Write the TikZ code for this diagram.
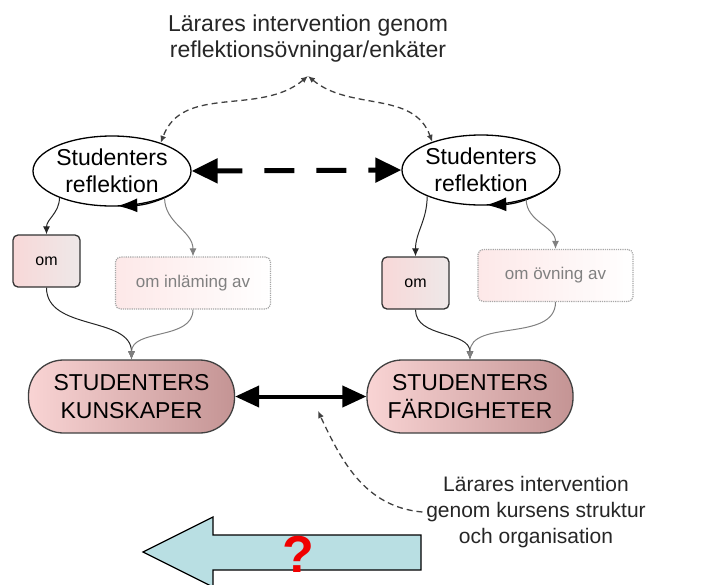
\documentclass[tikz,border=0pt]{standalone}
\usepackage{fontspec}
\setmainfont{Liberation Sans}
\usetikzlibrary{shapes.geometric,arrows.meta}

\definecolor{pinklight}{HTML}{F9D4D4}
\definecolor{pinkdark}{HTML}{C49494}
\definecolor{omlight}{HTML}{F8D8D8}
\definecolor{omdark}{HTML}{EEE8E8}
\definecolor{palepink}{HTML}{FDE8E8}
\definecolor{arrowblue}{HTML}{B9DFE3}
\definecolor{qred}{HTML}{F00000}

\begin{document}
\begin{tikzpicture}
  [x=1pt, y=-1pt,
   >={Latex[length=8pt,width=7pt]},
   line width=1pt,
   refl/.style={ellipse, draw, line width=1.3pt, inner sep=0pt, minimum width=158pt,
                minimum height=70pt, align=center,
                font=\fontsize{23}{27}\selectfont},
   ombox/.style={rectangle, rounded corners=5pt, draw=black!80, line width=1.3pt,
                 left color=omlight, right color=omdark,
                 minimum width=67pt, minimum height=52pt,
                 font=\fontsize{16}{19}\selectfont},
   faintbox/.style={rectangle, rounded corners=5pt, draw=gray!70, densely dotted,
                    line width=1.2pt, left color=palepink, right color=white, text=gray,
                    minimum width=155pt, minimum height=52pt,
                    font=\fontsize{17}{20}\selectfont},
   pill/.style={rectangle, rounded corners=35pt, draw=black!75, line width=1.3pt,
                left color=pinklight, right color=pinkdark,
                minimum width=206pt, minimum height=73pt, align=center,
                font=\fontsize{23}{28}\selectfont},
   note/.style={align=center, text=black!85, font=\fontsize{23}{26}\selectfont},
   dark/.style={->, black!85},
   pale/.style={->, gray},
   hint/.style={{Latex[length=7pt,width=6pt]}-{Latex[length=7pt,width=6pt]},
                line width=1.3pt, dash pattern=on 6pt off 4pt, black!75},
   intervene/.style={-{Latex[length=7pt,width=6pt]}, line width=1.3pt,
                     dash pattern=on 6pt off 4pt, black!75},
   loopback/.style={-{Latex[length=20pt,width=14pt]}, line width=1.3pt},
   bigdash/.style={{Triangle[length=26pt,width=24pt]}-{Triangle[length=26pt,width=24pt]},
                   line width=5pt, dash pattern=on 30pt off 22pt, dash phase=4pt},
   bigboth/.style={{Triangle[length=24pt,width=21pt]}-{Triangle[length=24pt,width=21pt]},
                   line width=4pt}
  ]
  \useasboundingbox (0,0) rectangle (703,584);

  \node[note] (top) at (308,39)
    {Lärares intervention genom\\reflektionsövningar/enkäter};
  \coordinate (fork) at (308,76);

  \node[refl]     (RL)   at (112,171)   {Studenters\\reflektion};
  \node[refl]     (RR)   at (481,170)   {Studenters\\reflektion};

  \node[ombox]    (omL)  at (46.5,261)  {om};
  \node[faintbox] (inlL) at (193,283)   {om inläming av};
  \node[ombox]    (omR)  at (415.5,283) {om};
  \node[faintbox] (ovnR) at (555.5,275.5) {om övning av};

  \node[pill]     (kunsk) at (131.5,396.5) {STUDENTERS\\KUNSKAPER};
  \node[pill]     (fard)  at (470,396.5)   {STUDENTERS\\FÄRDIGHETER};

  \node[note, font=\fontsize{21}{26}\selectfont] (bottom) at (536,512)
    {Lärares intervention\\genom kursens struktur\\och organisation};
  \coordinate (gap) at (318,411);

  % reflektion loops
  \draw[loopback] (RL.center) ++(74,12)
    arc[start angle=-20, end angle=-86, x radius=79pt, y radius=35pt];
  \draw[loopback] (RR.center) ++(74,12)
    arc[start angle=-20, end angle=-86, x radius=79pt, y radius=35pt];

  \path (fork) edge [hint, out=-140, in=70]  (RL.30)
        (fork) edge [hint, out=-40,  in=110] (RR.150)

        (RL.east) edge [bigdash] (RR.west)
        (kunsk.east) edge [bigboth] (fard.west)

        (RL.-153) edge [dark, out=-90, in=90] (omL.north)
        (RL.-27)  edge [pale, out=-90, in=90] (inlL.north)
        (RR.-154) edge [dark, out=-90, in=90] (omR.north)
        (RR.-33)  edge [pale, out=-90, in=90] (ovnR.north)

        (omL.south)  edge [dark, out=-90, in=90] (kunsk.north)
        (inlL.south) edge [pale, out=-90, in=90] (kunsk.north)
        (omR.south)  edge [dark, out=-90, in=90] (fard.north)
        (ovnR.south) edge [pale, out=-90, in=90] (fard.north)

        (bottom.west) edge [intervene, out=175, in=-65] (gap)
        ;

  % big arrow
  \draw[fill=arrowblue, line width=1.3pt]
    (421,535) -- (213,535) -- (213,517) -- (143,552)
    -- (213,587) -- (213,570) -- (421,570) -- cycle;
  \node[text=qred, font=\fontsize{52}{52}\bfseries\selectfont] (quest) at (298,554) {?};
\end{tikzpicture}
\end{document}
